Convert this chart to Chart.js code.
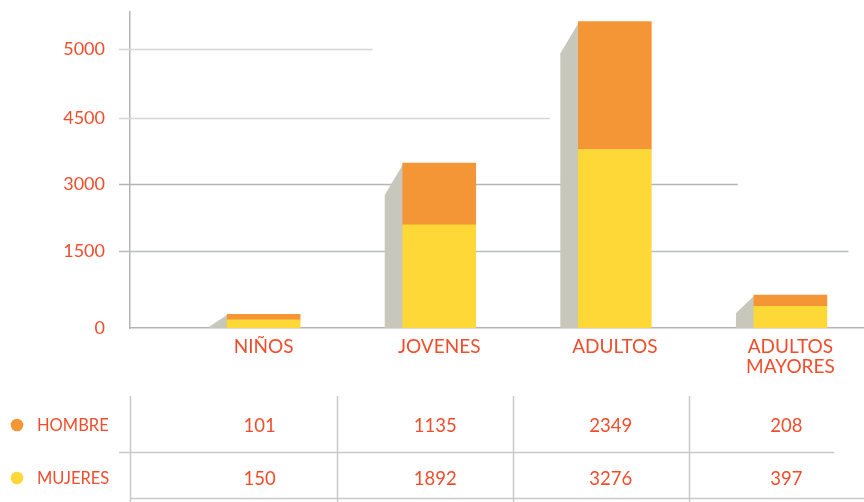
<!DOCTYPE html>
<html>
<head>
<meta charset="utf-8">
<script src="https://cdn.jsdelivr.net/npm/chart.js@4.4.1/dist/chart.umd.min.js"></script>
<style>
  html, body { margin: 0; padding: 0; background: #ffffff; }
  #wrap { width: 864px; height: 502px; }
</style>
</head>
<body>
<div id="wrap"><canvas id="chart" width="864" height="502"></canvas></div>
<script>
// DATA
const categories = ["NIÑOS", "JOVENES", "ADULTOS", ["ADULTOS", "MAYORES"]];
const hombre = [101, 1135, 2349, 208];
const mujeres = [150, 1892, 3276, 397];
const seriesNames = ["HOMBRE", "MUJERES"];

// the axis labels do not sit on an even value scale in the original
const tickValues = [0, 1410, 2640, 3860, 5120];
const tickLabels = ["0", "1500", "3000", "4500", "5000"];

const RED = "#ee4e2d";
const ORANGE = "#f49536";
const YELLOW = "#fdd837";
const SHADOW = "#c7c7bb";
const FONT = "Lato, 'Open Sans', sans-serif";

// partial grid lines (end given in category units)
const gridEnds = [null, 3.33, 2.7, 1.63, 0.62];
const gridColors = ["#b4b4b4", "#b9bcc0", "#b4b4b4", "#d6d6d6", "#d6d6d6"];

const gridPlugin = {
  id: "grid",
  beforeDatasetsDraw(chart) {
    const { ctx } = chart;
    const xs = chart.scales.x, ys = chart.scales.y;
    ctx.save();
    ctx.lineWidth = 1.5;
    tickValues.forEach((v, i) => {
      if (gridEnds[i] === null) return;
      const y = Math.round(ys.getPixelForValue(v)) + 0.5;
      ctx.strokeStyle = gridColors[i];
      ctx.beginPath();
      ctx.moveTo(chart.chartArea.left - 11, y);
      ctx.lineTo(xs.getPixelForValue(gridEnds[i]), y);
      ctx.stroke();
    });
    ctx.restore();
  }
};

// grey slanted side of each bar
const shadowPlugin = {
  id: "shadow",
  beforeDatasetsDraw(chart) {
    const { ctx } = chart;
    const top = chart.getDatasetMeta(1).data;
    ctx.save();
    ctx.fillStyle = SHADOW;
    top.forEach(bar => {
      const left = bar.x - bar.width / 2;
      const base = chart.chartArea.bottom;
      const h = base - bar.y;
      const drop = Math.min(32, 12 + (h - 12) * 0.3);
      ctx.beginPath();
      ctx.moveTo(left + 1, bar.y);
      ctx.lineTo(left + 1, base);
      ctx.lineTo(left - 18, base);
      ctx.lineTo(left - 18, Math.min(base, bar.y + drop));
      ctx.closePath();
      ctx.fill();
    });
    ctx.restore();
  }
};

// data table under the chart
const tablePlugin = {
  id: "table",
  afterDraw(chart) {
    const { ctx } = chart;
    const xs = chart.scales.x;
    const left = chart.chartArea.left;
    const rows = [425, 478];
    const rowVals = [hombre, mujeres];
    const rowColors = [ORANGE, YELLOW];
    ctx.save();
    ctx.strokeStyle = "#c9c9c9";
    ctx.lineWidth = 1.5;
    ctx.beginPath();
    ctx.moveTo(left - 11, 452.5); ctx.lineTo(xs.getPixelForValue(3.25), 452.5);
    ctx.moveTo(left, 498.5); ctx.lineTo(chart.width, 498.5);
    ctx.moveTo(left + 0.5, 396); ctx.lineTo(left + 0.5, 502);
    for (let i = 1; i < categories.length; i++) {
      const x = Math.round(xs.getPixelForValue(i - 0.58)) + 0.5;
      ctx.moveTo(x, 396); ctx.lineTo(x, 502);
    }
    ctx.stroke();

    ctx.textBaseline = "middle";
    rows.forEach((y, r) => {
      ctx.fillStyle = rowColors[r];
      ctx.beginPath();
      ctx.arc(17, y, 6.3, 0, Math.PI * 2);
      ctx.fill();
      ctx.fillStyle = RED;
      ctx.textAlign = "left";
      ctx.font = "16.5px " + FONT;
      ctx.fillText(seriesNames[r], 37, y + 1);
      ctx.font = "18.5px " + FONT;
      ctx.textAlign = "center";
      rowVals[r].forEach((v, i) => {
        ctx.fillText(String(v), xs.getPixelForValue(i) - 4, y + 1);
      });
    });
    ctx.restore();
  }
};

const ctx = document.getElementById("chart");

new Chart(ctx, {
  type: "bar",
  data: {
    datasets: [
      {
        label: seriesNames[1],
        data: mujeres.map((v, i) => ({ x: i, y: v })),
        backgroundColor: YELLOW,
        stack: "s"
      },
      {
        label: seriesNames[0],
        data: hombre.map((v, i) => ({ x: i, y: v })),
        backgroundColor: ORANGE,
        stack: "s"
      }
    ]
  },
  options: {
    responsive: false,
    animation: false,
    devicePixelRatio: 1,
    layout: { padding: { top: 12, right: 0, left: 0, bottom: 0 } },
    datasets: { bar: { barThickness: 73, borderWidth: 0 } },
    plugins: { legend: { display: false }, tooltip: { enabled: false } },
    scales: {
      x: {
        type: "linear",
        offset: false,
        min: -0.761,
        max: 3.419,
        grid: { display: false, drawTicks: false },
        border: { display: true, color: "#b4b4b4", width: 1.5 },
        afterFit(scale) {
          scale.height = 502 - 328;
          scale.paddingLeft = 0; scale.paddingRight = 0;
        },
        afterBuildTicks(scale) {
          scale.ticks = categories.map((c, i) => ({ value: i }));
        },
        ticks: {
          autoSkip: false,
          maxRotation: 0,
          padding: 9,
          color: RED,
          font: { family: FONT, size: 19, lineHeight: 1.05 },
          callback: (v) => categories[v]
        }
      },
      y: {
        stacked: true,
        min: 0,
        max: 5800,
        grid: { display: false, drawTicks: false },
        border: { display: true, color: "#b4b4b4", width: 1.5 },
        afterFit(scale) {
          scale.width = 130;
          scale.paddingTop = 0; scale.paddingBottom = 0;
        },
        afterBuildTicks(scale) {
          scale.ticks = tickValues.map(v => ({ value: v }));
        },
        ticks: {
          padding: 25,
          color: RED,
          font: { family: FONT, size: 18 },
          callback: (v) => tickLabels[tickValues.indexOf(v)]
        }
      }
    }
  },
  plugins: [gridPlugin, shadowPlugin, tablePlugin]
});
</script>
</body>
</html>
